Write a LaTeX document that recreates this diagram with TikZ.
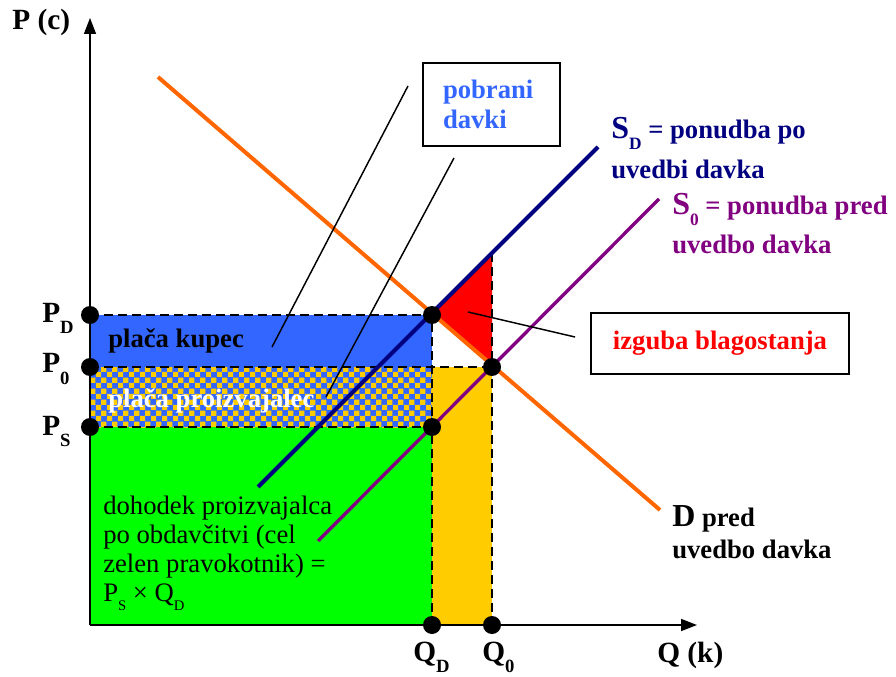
\documentclass[tikz,border=0pt]{standalone}
\usepackage{fontspec}
\setmainfont{Liberation Serif}
\usetikzlibrary{arrows.meta,patterns}

\definecolor{kupecblue}{RGB}{51,102,255}
\definecolor{prodyellow}{RGB}{255,204,0}
\definecolor{prodgreen}{RGB}{0,255,0}
\definecolor{demandorange}{RGB}{255,102,0}
\definecolor{supplynavy}{RGB}{0,0,128}
\definecolor{supplypurple}{RGB}{128,0,128}

% two-colour checks for the shared strip
\pgfdeclarepatternformonly{checks}{\pgfpointorigin}{\pgfqpoint{8pt}{8pt}}{\pgfqpoint{8pt}{8pt}}{%
  \pgfpathrectangle{\pgfpointorigin}{\pgfqpoint{4pt}{4pt}}%
  \pgfpathrectangle{\pgfqpoint{4pt}{4pt}}{\pgfqpoint{4pt}{4pt}}%
  \pgfusepath{fill}}

\newcommand{\lowsub}[2][14]{\raisebox{-0.62\dimexpr#1pt\relax}{\fontsize{#1}{#1}\selectfont #2}}

\begin{document}
\begin{tikzpicture}[x=0.75pt, y=-0.75pt,
  dot/.style={circle, fill=black, minimum size=13.5pt, inner sep=0pt},
  guide/.style={line width=1.8pt, dash pattern=on 7pt off 3.5pt},
  axis/.style={line width=1.2pt, -{Triangle[length=12pt, width=9pt]}},
  curve/.style={line width=3pt},
  pointer/.style={line width=1.1pt},
  callout/.style={draw, line width=1.5pt, fill=white, inner sep=0pt, align=left,
    font=\fontsize{20}{22}\selectfont\bfseries},
  big/.style={anchor=base west, inner sep=0pt, font=\fontsize{22}{22}\selectfont\bfseries},
  bold/.style={anchor=base west, inner sep=0pt, font=\fontsize{20}{22}\selectfont\bfseries},
  plain/.style={anchor=base west, inner sep=0pt, font=\fontsize{20}{23}\selectfont},
]
\useasboundingbox (0,0) rectangle (896,677);

% key points
\coordinate (O) at (90,625);
\coordinate (yPD) at (90,315);
\coordinate (yP0) at (90,367);
\coordinate (yPS) at (90,427);
\coordinate (E) at (432,315);
\coordinate (M) at (432,367);
\coordinate (E0) at (492,367);
\coordinate (F) at (432,427);
\coordinate (T) at (492,253);
\coordinate (xQD) at (432,625);
\coordinate (xQ0) at (492,625);

% areas
\fill[prodgreen] (yPS) rectangle (xQD);
\fill[prodyellow] (M) rectangle (xQ0);
\fill[kupecblue] (yPD) rectangle (M);
\fill[kupecblue] (yP0) rectangle (F);
\fill[pattern=checks, pattern color=prodyellow] (yP0) rectangle (F);
\fill[red] (E) -- (T) -- (E0) -- cycle;

% dashed guides
\draw[guide] (yPD) -- (E) -- (xQD);
\draw[guide] (yP0) -- (E0);
\draw[guide] (T) -- (xQ0);
\draw[guide] (yPS) -- (F);

% demand and supply
\coordinate (dA) at (158,77);
\coordinate (dB) at (660,510);
\coordinate (sdA) at (258,487);
\coordinate (sdB) at (598,147);
\coordinate (s0A) at (318,541);
\coordinate (s0B) at (659,199);
\draw[curve, demandorange] (dA) -- (dB);
\draw[curve, supplynavy] (sdA) -- (sdB);
\draw[curve, supplypurple, line width=2.5pt] (s0A) -- (s0B);

% axes
\draw[axis] (O) -- (90,18);
\draw[axis] (O) -- (697,625);

% callouts
\node[callout, minimum width=102.75pt, minimum height=62.25pt, text width=72.75pt,
  text=kupecblue] (taxbox) at (491.5,104.5) {pobrani\\davki};
\node[callout, minimum width=193.5pt, minimum height=45.75pt, text=red]
  (lossbox) at (720,343.5) {izguba blagostanja};
\coordinate (tx1) at (408,86);
\coordinate (tx1e) at (272,347);
\coordinate (tx2) at (454,158);
\coordinate (tx2e) at (326,397);
\coordinate (ls) at (468,312);
\coordinate (le) at (575,337);
\draw[pointer] (tx1) -- (tx1e);
\draw[pointer] (tx2) -- (tx2e);
\draw[pointer] (ls) -- (le);

% points
\foreach \p in {yPD,yP0,yPS,E,E0,F,xQD,xQ0}
  \node[dot] (dot-\p) at (\p) {};

% axis labels
\node[big] (pc) at (12,30) {P (c)};
\node[big] (qk) at (657,662) {Q (k)};
\node[big] (lpd) at (42,322) {P\lowsub{D}};
\node[big] (lp0) at (42,373) {P\lowsub{0}};
\node[big] (lps) at (42,435) {P\lowsub{S}};
\node[big] (lqd) at (413,661) {Q\lowsub{D}};
\node[big] (lq0) at (482,661) {Q\lowsub{0}};

% area labels
\node[bold] (kupec) at (108,347) {plača kupec};
\node[bold, text=white] (proiz) at (108,407) {plača proizvajalec};
\node[plain] (inc1) at (103,514) {dohodek proizvajalca};
\node[plain] (inc2) at (103,543) {po obdavčitvi (cel};
\node[plain] (inc3) at (103,572) {zelen pravokotnik) =};
\node[plain] (inc4) at (103,601) {P\lowsub[11]{S} × Q\lowsub[11]{D}};

% curve labels
\node[bold, text=supplynavy] (sdl1) at (611,139) {{\fontsize{24}{24}\selectfont S}\lowsub[13]{D} = ponudba po};
\node[bold, text=supplynavy] (sdl2) at (611,179) {uvedbi davka};
\node[bold, text=supplypurple] (s0l1) at (672,215) {{\fontsize{24}{24}\selectfont S}\lowsub[13]{0} = ponudba pred};
\node[bold, text=supplypurple] (s0l2) at (672,254) {uvedbo davka};
\node[bold] (dl1) at (672,526) {{\fontsize{24}{24}\selectfont D} pred};
\node[bold] (dl2) at (672,558) {uvedbo davka};
\end{tikzpicture}
\end{document}
